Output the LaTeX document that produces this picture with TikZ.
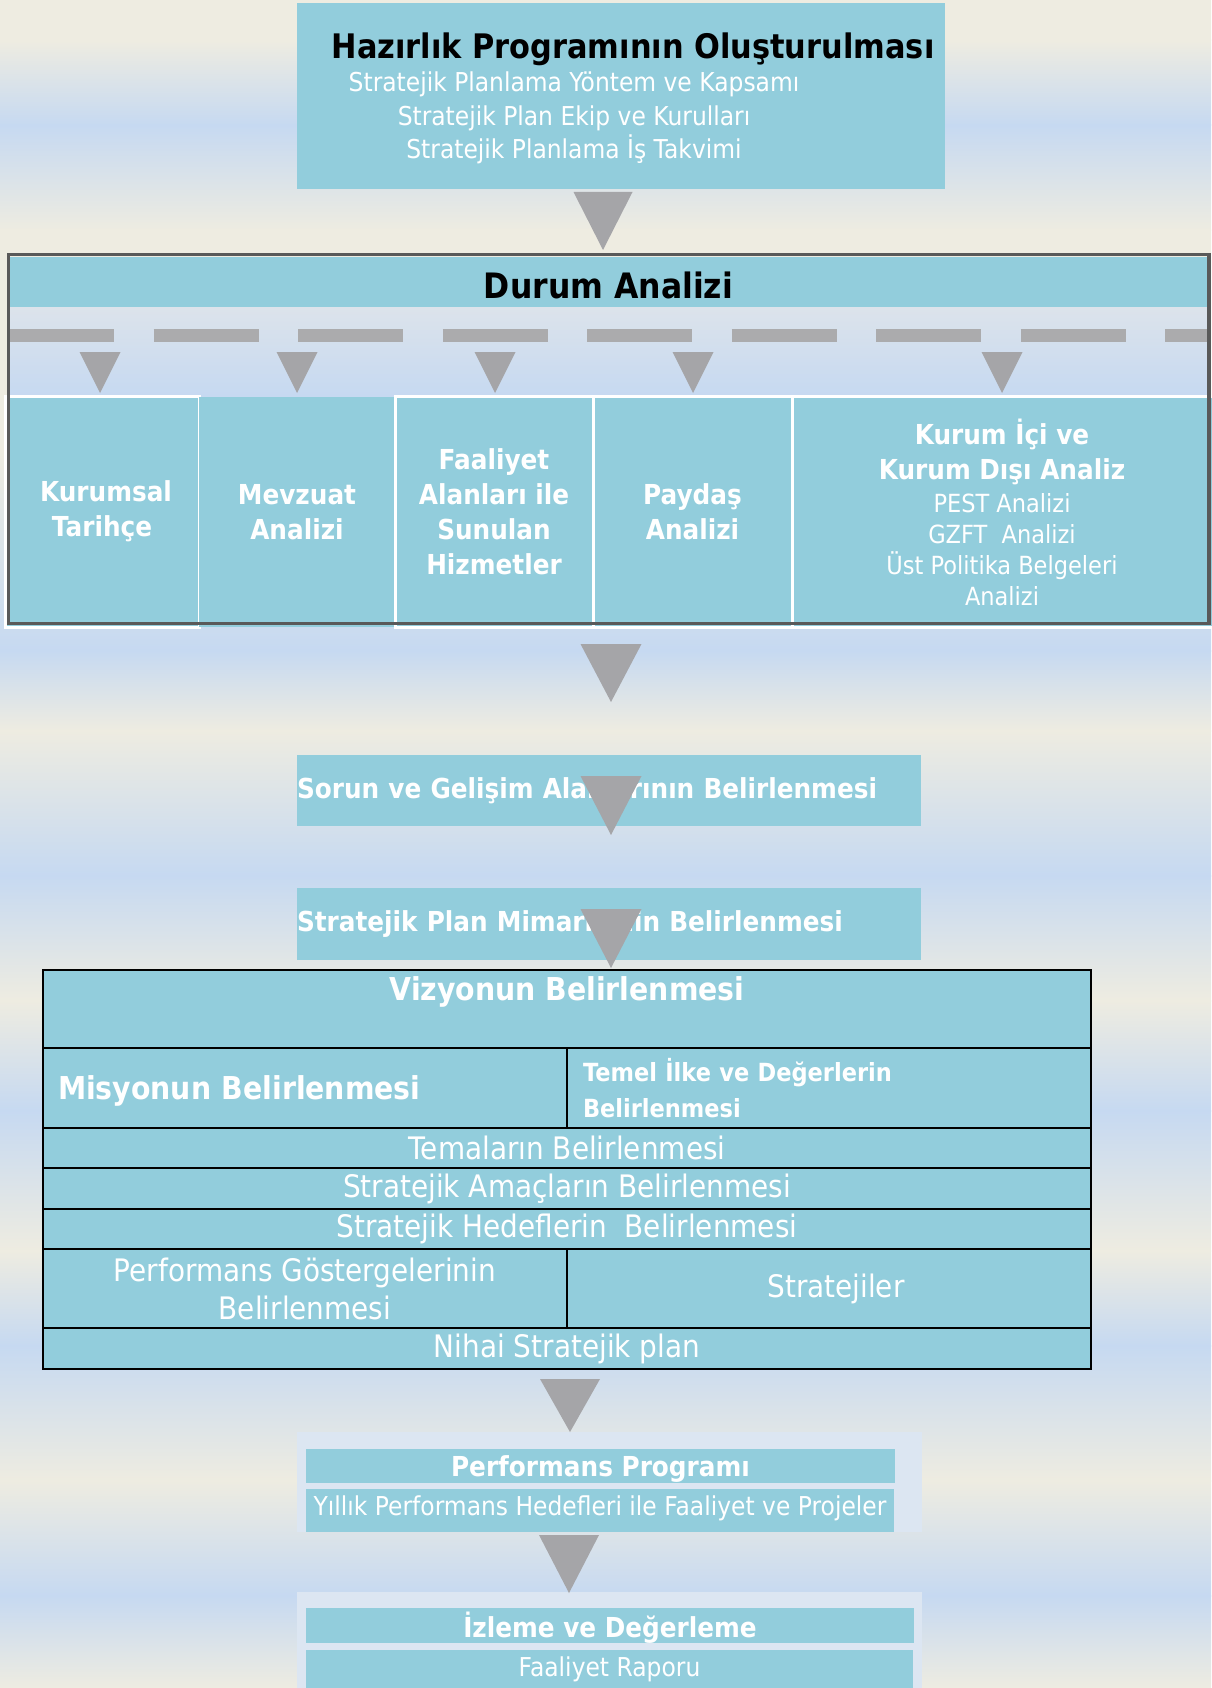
\documentclass[tikz,border=0pt]{standalone}
\usepackage{fontspec}
\setmainfont{DejaVu Sans}[FakeStretch=0.9]
\definecolor{aqua}{HTML}{92CDDC}
\definecolor{beige}{HTML}{EEECE1}
\definecolor{sky}{HTML}{C6D9F1}
\definecolor{trigray}{HTML}{A5A5A8}
\definecolor{dashgray}{HTML}{ABABAD}
\definecolor{paleb}{HTML}{DCE6F2}
\definecolor{paleg}{HTML}{DCE3EB}
\definecolor{frameg}{HTML}{595959}
\begin{document}
\begin{tikzpicture}[x=1pt,y=-1pt,
    tbox/.style={fill=aqua,inner sep=0pt,outer sep=0pt,anchor=north west},
    cell/.style={tbox,draw=black,line width=2pt},
    wb/.style={text=white,font=\bfseries\fontsize{27.5}{35}\selectfont,align=center},
    wn/.style={text=white,font=\fontsize{25}{31}\selectfont,align=center},
    tn/.style={text=white,font=\fontsize{31}{38}\selectfont,align=center}]
    \useasboundingbox (0,0) rectangle (1211,1688);
    \foreach \ya/\yb/\ca/\cb in {0/40/beige/beige,40/125/beige/sky,125/230/sky/beige,230/450/beige/beige,450/650/beige/sky,650/730/sky/beige,730/875/beige/sky,875/1000/sky/beige,1000/1110/beige/sky,1110/1250/sky/beige,1250/1345/beige/sky,1345/1480/sky/beige,1480/1595/beige/sky,1595/1688/sky/beige}
        \shade[top color=\ca,bottom color=\cb] (0,\ya) rectangle (1211,\yb+1);
    \node[tbox,minimum width=648pt,minimum height=186pt] (hp) at (297,3) {};
    \node[font=\bfseries\fontsize{33.8}{40}\selectfont] (hpt) at (633,49) {Hazırlık Programının Oluşturulması};
    \node[wn,font=\fontsize{26}{33.5}\selectfont] (hpl) at (574,118) {Stratejik Planlama Yöntem ve Kapsamı\\Stratejik Plan Ekip ve Kurulları\\Stratejik Planlama İş Takvimi};
    \shade[top color=paleg,bottom color=sky] (10,307) rectangle (1207,396);
    \node[tbox,minimum width=1197pt,minimum height=50pt,text height=33pt,font=\bfseries\fontsize{35}{42}\selectfont] (dh) at (10,257) {Durum Analizi};
    \draw[dashgray,line width=13pt,dash pattern=on 105pt off 39.5pt] (9,335.5) -- (1209,335.5);
    \foreach \x in {100,297,495,693,1002} \fill[trigray] (\x-20.5,352) -- (\x+20.5,352) -- (\x,393) -- cycle;
    \node[tbox,wb,draw=white,line width=3pt,minimum width=194pt,minimum height=231pt] (kt) at (5,396) {\hspace*{8pt}Kurumsal\\Tarihçe};
    \node[tbox,wb,minimum width=196pt,minimum height=230pt] (ma) at (199,397) {Mevzuat\\Analizi};
    \node[tbox,wb,draw=white,line width=3pt,minimum width=198pt,minimum height=231pt] (fa) at (395,396) {Faaliyet\\Alanları ile\\Sunulan\\Hizmetler};
    \node[tbox,wb,draw=white,line width=3pt,minimum width=199pt,minimum height=231pt] (pa) at (593,396) {Paydaş\\Analizi};
    \node[tbox,draw=white,line width=3pt,minimum width=422pt,minimum height=231pt] (ku) at (792,396) {};
    \node[wb] (kut) at (1002,452) {Kurum İçi ve\\Kurum Dışı Analiz};
    \node[wn] (kun) at (1002,550) {PEST Analizi\\GZFT~~Analizi\\Üst Politika Belgeleri\\Analizi};
    \draw[frameg,line width=3.5pt] (8.5,254.5) rectangle (1209,623.5);
    \node[tbox,wb,align=left,text width=624pt,minimum height=71pt] (sg) at (297,755) {Sorun ve Gelişim Alanlarının Belirlenmesi};
    \node[tbox,wb,align=left,text width=624pt,minimum height=72pt] (sp) at (297,888) {Stratejik Plan Mimarisinin Belirlenmesi};
    \node[cell,minimum width=1048pt,minimum height=78pt] (vz) at (43,970) {};
    \node[wb,font=\bfseries\fontsize{31.5}{38}\selectfont] (vzt) at (567,992) {Vizyonun Belirlenmesi};
    \node[cell,wb,font=\bfseries\fontsize{31.5}{38}\selectfont,align=left,text width=494pt,inner xsep=15pt,minimum height=80pt,text height=30pt] (ms) at (43,1048) {Misyonun Belirlenmesi};
    \node[cell,wb,font=\bfseries\fontsize{25}{36}\selectfont,align=left,text width=492pt,inner xsep=16pt,minimum height=80pt] (td) at (567,1048) {Temel İlke ve Değerlerin\\Belirlenmesi};
    \node[cell,tn,minimum width=1048pt,minimum height=40pt] (tm) at (43,1128) {Temaların Belirlenmesi};
    \node[cell,tn,minimum width=1048pt,minimum height=41pt] (sa) at (43,1168) {Stratejik Amaçların Belirlenmesi};
    \node[cell,tn,minimum width=1048pt,minimum height=40pt] (sh) at (43,1209) {Stratejik Hedeflerin~~Belirlenmesi};
    \node[cell,tn,minimum width=524pt,minimum height=79pt] (pg) at (43,1249) {Performans Göstergelerinin\\Belirlenmesi};
    \node[cell,tn,minimum width=524pt,minimum height=79pt] (st) at (567,1249) {\hspace*{14pt}Stratejiler};
    \node[cell,tn,minimum width=1048pt,minimum height=41pt] (ns) at (43,1328) {Nihai Stratejik plan};
    \node[tbox,fill=paleb,minimum width=625pt,minimum height=100pt] (pp) at (297,1432) {};
    \node[tbox,wb,minimum width=589pt,minimum height=34pt,text height=27pt] (ppa) at (306,1449) {Performans Programı};
    \node[tbox,wn,font=\fontsize{26}{31}\selectfont,minimum width=588pt,minimum height=43pt,text depth=10pt] (ppb) at (306,1489) {Yıllık Performans Hedefleri ile Faaliyet ve Projeler};
    \node[tbox,fill=paleb,minimum width=625pt,minimum height=100pt] (iz) at (297,1592) {};
    \node[tbox,wb,minimum width=608pt,minimum height=34pt,text height=29pt] (iza) at (306,1608) {İzleme ve Değerleme};
    \node[tbox,wn,font=\fontsize{26}{31}\selectfont,minimum width=607pt,minimum height=38pt] (izb) at (306,1650) {Faaliyet Raporu};
    \foreach \x/\t/\b/\w in {603/192/250/29.5,611/644/702/30.5,611/776/835/30.5,611/909/968/30.5,570/1379/1432/30,569/1535/1593/30}
        \fill[trigray] (\x-\w,\t) -- (\x+\w,\t) -- (\x,\b) -- cycle;
\end{tikzpicture}
\end{document}
